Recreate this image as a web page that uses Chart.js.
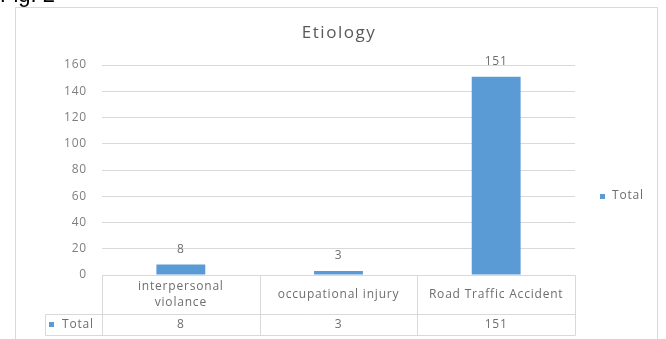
<!DOCTYPE html>
<html><head><meta charset="utf-8">
<script src="https://cdn.jsdelivr.net/npm/chart.js@4/dist/chart.umd.min.js"></script>
<style>html,body{margin:0;padding:0;background:#fff}#wrap{width:666px;height:339px;position:relative}</style>
</head><body><div id="wrap"><canvas id="c" width="666" height="339"></canvas></div>
<script>
const categories = [["interpersonal","violance"], ["occupational injury"], ["Road Traffic Accident"]];
const totals = [8, 3, 151];
const seriesName = "Total";
const yTicks = [0, 20, 40, 60, 80, 100, 120, 140, 160];
const chartTitle = "Etiology";
const figLabel = "Fig. 2";

const FONT = "'Open Sans', 'Liberation Sans', Arial, sans-serif";
const BAR = '#5b9bd5';
const TXT = '#6e6e6e';
const LINE = '#d9d9d9';

const deco = {
  id: 'deco',
  beforeDraw(chart) {
    const ctx = chart.ctx;
    ctx.save();
    ctx.fillStyle = '#fff';
    ctx.fillRect(0, 0, chart.width, chart.height);
    ctx.strokeStyle = LINE; ctx.lineWidth = 1;
    ctx.strokeRect(15.5, 7.5, 642, 340);
    ctx.fillStyle = '#000'; ctx.font = "22px 'Liberation Sans', Arial, sans-serif";
    ctx.textAlign = 'left'; ctx.textBaseline = 'alphabetic';
    ctx.fillText(figLabel, 0, 2);
    ctx.fillStyle = '#595959'; ctx.font = '17px ' + FONT;
    ctx.letterSpacing = '1.5px';
    ctx.textAlign = 'center'; ctx.textBaseline = 'middle';
    ctx.fillText(chartTitle, 339, 33);
    ctx.restore();
    ctx.letterSpacing = '0.8px';
  },
  afterDraw(chart) {
    const ctx = chart.ctx;
    const x = chart.scales.x, y = chart.scales.y;
    const n = categories.length;
    const half = (x.getPixelForValue(1) - x.getPixelForValue(0)) / 2;
    const bounds = [];
    for (let i = 0; i < n; i++) bounds.push(Math.round(x.getPixelForValue(i) - half) + 0.5);
    bounds.push(Math.round(x.getPixelForValue(n - 1) + half) + 0.5);
    const r0 = Math.round(y.getPixelForValue(0)) + 0.5, r1 = r0 + 39, r2 = r1 + 21;
    ctx.save();
    ctx.letterSpacing = '0.8px';
    ctx.strokeStyle = LINE; ctx.lineWidth = 1;
    ctx.beginPath();
    ctx.moveTo(bounds[0], r0); ctx.lineTo(bounds[n], r0);
    ctx.moveTo(45.5, r1); ctx.lineTo(bounds[n], r1);
    ctx.moveTo(45.5, r2); ctx.lineTo(bounds[n], r2);
    ctx.moveTo(45.5, r1); ctx.lineTo(45.5, r2);
    bounds.forEach(b => { ctx.moveTo(b, r0); ctx.lineTo(b, r2); });
    ctx.stroke();
    ctx.fillStyle = TXT; ctx.font = '12px ' + FONT;
    ctx.textAlign = 'center'; ctx.textBaseline = 'middle';
    const meta = chart.getDatasetMeta(0);
    for (let i = 0; i < n; i++) {
      const cx = x.getPixelForValue(i);
      const lines = categories[i];
      const lh = 16;
      const start = (r0 + r1) / 2 - (lines.length - 1) * lh / 2;
      lines.forEach((t, k) => ctx.fillText(t, cx, start + k * lh));
      ctx.fillText(String(totals[i]), cx, (r1 + r2) / 2);
      const bar = meta.data[i];
      ctx.fillText(String(totals[i]), bar.x, bar.y - 15);
    }
    ctx.fillStyle = BAR; ctx.fillRect(49, (r1 + r2) / 2 - 3, 5, 5);
    ctx.fillStyle = TXT; ctx.textAlign = 'left';
    ctx.fillText(seriesName, 62, (r1 + r2) / 2);
    ctx.fillStyle = BAR; ctx.fillRect(600, 194, 5, 5);
    ctx.fillStyle = TXT;
    ctx.fillText(seriesName, 612, 196);
    ctx.restore();
  }
};

new Chart(document.getElementById('c'), {
  type: 'bar',
  data: {
    labels: categories.map(c => c.join(' ')),
    datasets: [{ label: seriesName, data: totals, backgroundColor: BAR,
      categoryPercentage: 1, barPercentage: 0.31 }]
  },
  options: {
    responsive: false, animation: false,
    layout: { padding: { left: 40, right: 91, top: 65, bottom: 64 } },
    plugins: { legend: { display: false }, title: { display: false }, tooltip: { enabled: false } },
    scales: {
      x: { display: false },
      y: {
        min: 0, max: 160,
        afterFit(s) { s.width = 62; },
        afterBuildTicks(s) { s.ticks = yTicks.map(v => ({ value: v })); },
        grid: { color: LINE, drawTicks: false },
        border: { display: false },
        ticks: { padding: 15, color: '#7f7f7f', font: { size: 12, family: FONT } }
      }
    }
  },
  plugins: [deco]
});
</script></body></html>
